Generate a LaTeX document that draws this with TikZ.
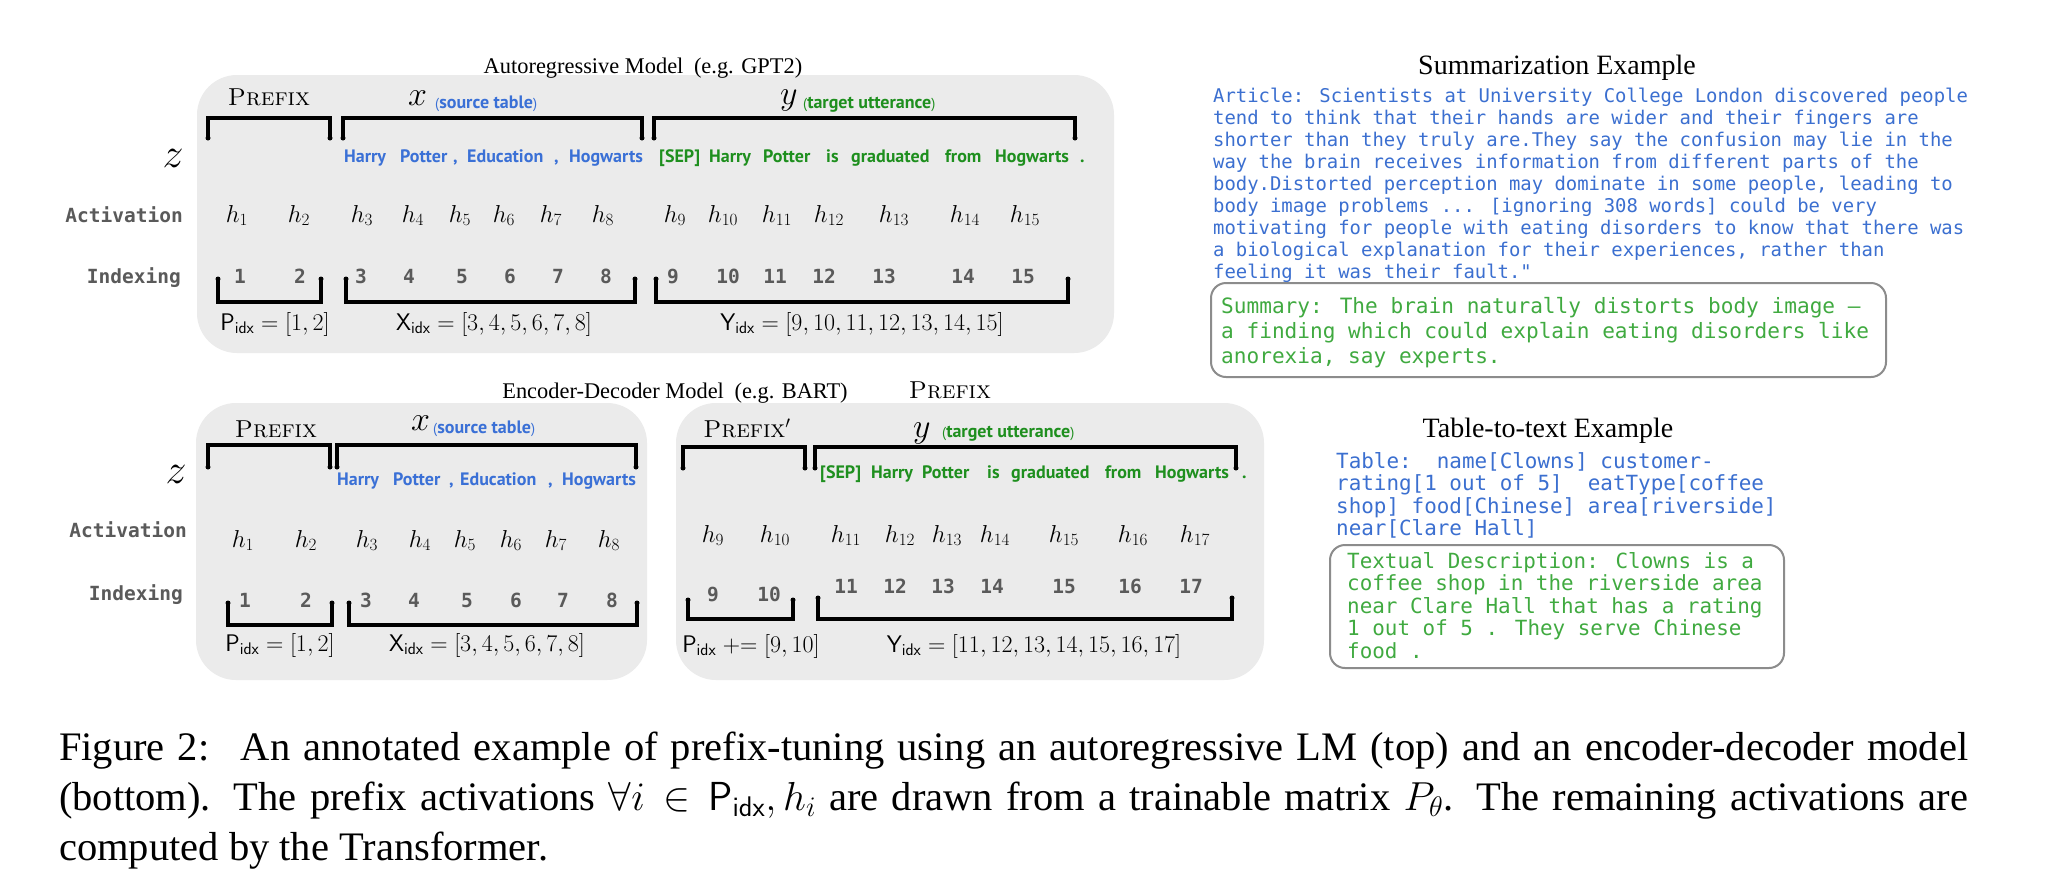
\RequirePackage{fix-cm}
\documentclass[tikz,border=0pt]{standalone}
\usepackage{fontspec}
\newfontfamily\serifT{Liberation Serif}
\newfontfamily\monofnt{DejaVu Sans Mono}
\newfontfamily\tokfnt{PT Sans}
\definecolor{panelgray}{HTML}{EBEBEB}
\definecolor{tokblue}{HTML}{3A70D6}
\definecolor{tokgreen}{HTML}{1E8F1E}
\definecolor{artblue}{HTML}{3B6FD0}
\definecolor{sumgreen}{HTML}{40AA40}
\definecolor{lblgray}{HTML}{5A5A5A}
\definecolor{boxline}{HTML}{8C8C8C}
\newcommand{\mybracket}[4]{\draw[brk] (#1,#4) -- (#1,#3) -- (#2,#3) -- (#2,#4);
  \fill (#1,#4) circle (2.5pt); \fill (#2,#4) circle (2.5pt);}
\newcommand{\lpar}{{\mdseries\fontsize{14.5}{18}\selectfont(}}
\newcommand{\rpar}{{\mdseries\fontsize{14.5}{18}\selectfont)}}
\tikzset{
  panel/.style={fill=panelgray, rounded corners=40pt},
  brk/.style={line width=3.4pt, line cap=round, line join=miter},
  hnode/.style={anchor=base, inner sep=0pt, font=\fontsize{24.5}{29}\selectfont},
  idxnum/.style={anchor=base, inner sep=0pt, text=lblgray, font=\monofnt\bfseries\fontsize{19.5}{23}\selectfont},
  rowlbl/.style={anchor=base east, inner sep=0pt, text=lblgray, font=\monofnt\bfseries\fontsize{19.5}{23}\selectfont},
  zlbl/.style={anchor=base, inner sep=0pt, font=\fontsize{42}{48}\selectfont},
  tokb/.style={anchor=base west, inner sep=0pt, text=tokblue, font=\tokfnt\bfseries\fontsize{18}{22}\selectfont},
  tokg/.style={tokb, text=tokgreen},
  pfx/.style={anchor=base, inner sep=0pt, font=\rmfamily\fontsize{24.5}{29}\selectfont},
  seqvar/.style={anchor=base west, inner sep=0pt, font=\fontsize{34}{40}\selectfont},
  idxset/.style={anchor=base, inner sep=0pt, font=\fontsize{24}{29}\selectfont},
  ttl/.style={anchor=base, inner sep=0pt, font=\serifT\fontsize{22.4}{27}\selectfont},
  extitle/.style={anchor=base, inner sep=0pt, font=\serifT\fontsize{28}{33}\selectfont},
  arttxt/.style={anchor=base west, inner sep=0pt, text=artblue, font=\monofnt\fontsize{18.9}{22}\selectfont},
  sumtxt/.style={anchor=base west, inner sep=0pt, text=sumgreen, font=\monofnt\fontsize{21.1}{25}\selectfont},
  tabtxt/.style={anchor=base west, inner sep=0pt, text=artblue, font=\monofnt\fontsize{20.9}{22.5}\selectfont},
  desctxt/.style={tabtxt, text=sumgreen},
  exbox/.style={draw=boxline, line width=2pt, rounded corners=15pt},
  captxt/.style={anchor=base west, inner sep=0pt, font=\serifT\fontsize{40.5}{50}\selectfont},
}
\begin{document}
\begin{tikzpicture}[x=1pt,y=-1pt]
\useasboundingbox (0,0) rectangle (2048,871);
\fill[white] (0,0) rectangle (2048,871);
% ---------- panels ----------
\fill[panel] (197,75) rectangle (1114,353);
\fill[panel] (196,403) rectangle (647,680);
\fill[panel] (676,403) rectangle (1264,680);
% ---------- titles ----------
\node[ttl] (t1) at (643,73) {Autoregressive Model\hspace{5pt} (e.g. GPT2)};
\node[ttl] (t2) at (675,398) {Encoder-Decoder Model\hspace{5pt} (e.g. BART)};
\node[pfx] (pf4) at (950,398) {\textsc{Prefix}};
% ================= TOP PANEL =================
\node[zlbl] (z1) at (173,167) {$z$};
\node[rowlbl] (act1) at (183,222) {Activation};
\node[rowlbl] (ind1) at (181,283) {Indexing};
\node[pfx] (pf1) at (269,105) {\textsc{Prefix}};
\node[seqvar] (x1) at (408,105) {$x$};
\node[tokb] (x1l) at (435,108) {\lpar source table\rpar};
\node[seqvar] (y1) at (780,104) {$y$};
\node[tokg] (y1l) at (803,108) {\lpar target utterance\rpar};
\mybracket{208}{330}{118}{138}
\mybracket{343}{642}{118}{138}
\mybracket{654}{1075}{118}{138}
\foreach \w/\xx [count=\i] in {Harry/344, Potter/400, {,}/453, Education/467, {,}/554, Hogwarts/569}
  \node[tokb] (tb\i) at (\xx,162) {\w};
\foreach \w/\xx [count=\i] in {{[SEP]}/659, Harry/709, Potter/763, is/826, graduated/851, from/945, Hogwarts/995, ./1080}
  \node[tokg] (tg\i) at (\xx,162) {\w};
\foreach \n/\xx in {1/237,2/299,3/362,4/413,5/460,6/504,7/551,8/603,9/675,10/723,11/777,12/829,13/894,14/965,15/1025}
  \node[hnode] (ha\n) at (\xx,222) {$h_{\n}$};
\foreach \n/\xx in {1/240,2/300,3/361,4/409,5/462,6/510,7/558,8/606,9/673,10/728,11/775,12/824,13/884,14/963,15/1023}
  \node[idxnum] (ia\n) at (\xx,283) {\n};
\mybracket{218}{321}{302}{279}
\mybracket{346}{635}{302}{279}
\mybracket{656}{1068}{302}{279}
\node[idxset] (pa) at (275,330) {$\mathsf{P}_{\mathsf{idx}}=[1,2]$};
\node[idxset] (xa) at (494,330) {$\mathsf{X}_{\mathsf{idx}}=[3,4,5,6,7,8]$};
\node[idxset] (ya) at (862,330) {$\mathsf{Y}_{\mathsf{idx}}=[9,10,11,12,13,14,15]$};
% ================= BOTTOM LEFT PANEL =================
\node[zlbl] (z2) at (176,483) {$z$};
\node[rowlbl] (act2) at (187,537) {Activation};
\node[rowlbl] (ind2) at (183,600) {Indexing};
\node[pfx] (pf2) at (276,437) {\textsc{Prefix}};
\node[seqvar] (x2) at (411,430) {$x$};
\node[tokb] (x2l) at (433,433) {\lpar source table\rpar};
\mybracket{208}{330}{445}{467}
\mybracket{337}{636}{445}{467}
\foreach \w/\xx [count=\i] in {Harry/337, Potter/393, {,}/449, Education/460, {,}/548, Hogwarts/562}
  \node[tokb] (bb\i) at (\xx,485) {\w};
\foreach \n/\xx in {1/243,2/306,3/367,4/420,5/465,6/511,7/556,8/609}
  \node[hnode] (hb\n) at (\xx,547) {$h_{\n}$};
\foreach \n/\xx in {1/245,2/306,3/366,4/414,5/467,6/516,7/563,8/612}
  \node[idxnum] (ib\n) at (\xx,607) {\n};
\mybracket{228}{332}{625}{603}
\mybracket{349}{637}{625}{603}
\node[idxset] (pb) at (280,651) {$\mathsf{P}_{\mathsf{idx}}=[1,2]$};
\node[idxset] (xb) at (487,651) {$\mathsf{X}_{\mathsf{idx}}=[3,4,5,6,7,8]$};
% ================= BOTTOM RIGHT PANEL =================
\node[pfx] (pf3) at (747,437) {\textsc{Prefix}$'$};
\node[seqvar] (y2) at (913,437) {$y$};
\node[tokg] (y2l) at (942,437) {\lpar target utterance\rpar};
\mybracket{683}{805}{447}{468}
\mybracket{815}{1236}{447}{468}
\foreach \w/\xx [count=\i] in {{[SEP]}/820, Harry/871, Potter/922, is/987, graduated/1011, from/1105, Hogwarts/1155, ./1242}
  \node[tokg] (bg\i) at (\xx,478) {\w};
\foreach \n/\xx in {9/713,10/775,11/846,12/900,13/947,14/995,15/1064,16/1133,17/1195}
  \node[hnode] (hc\n) at (\xx,542) {$h_{\n}$};
\foreach \n/\xx in {9/713,10/769}
  \node[idxnum] (ic\n) at (\xx,601) {\n};
\foreach \n/\xx in {11/846,12/895,13/943,14/992,15/1064,16/1130,17/1191}
  \node[idxnum] (ic\n) at (\xx,593) {\n};
\mybracket{688}{793}{619}{600}
\mybracket{818}{1232}{619}{598}
\node[idxset] (pc) at (751,652) {$\mathsf{P}_{\mathsf{idx}}\mathrel{+}\mathrel{=}[9,10]$};
\node[idxset] (yc) at (1034,652) {$\mathsf{Y}_{\mathsf{idx}}=[11,12,13,14,15,16,17]$};
% ================= SUMMARIZATION EXAMPLE =================
\node[extitle] (sumt) at (1557,74) {Summarization Example};
\foreach \t [count=\i] in {
  {Article: Scientists at University College London discovered people},
  {tend to think that their hands are wider and their fingers are},
  {shorter than they truly are.They say the confusion may lie in the},
  {way the brain receives information from different parts of the},
  {body.Distorted perception may dominate in some people, leading to},
  {body image problems .{}.{}. [ignoring 308 words] could be very},
  {motivating for people with eating disorders to know that there was},
  {a biological explanation for their experiences, rather than},
  {feeling it was their fault."}}
  \node[arttxt] (art\i) at (1213,{102+22*(\i-1)}) {\t};
\draw[exbox] (1211,283) rectangle (1886,377);
\foreach \t [count=\i] in {
  {Summary: The brain naturally distorts body image –},
  {a finding which could explain eating disorders like},
  {anorexia, say experts.}}
  \node[sumtxt] (sum\i) at (1221,{313+25*(\i-1)}) {\t};
% ================= TABLE-TO-TEXT EXAMPLE =================
\node[extitle] (tabt) at (1548,437) {Table-to-text Example};
\foreach \t [count=\i] in {
  {Table:~~name[Clowns] customer-},
  {rating[1 out of 5]~~eatType[coffee},
  {shop] food[Chinese] area[riverside]},
  {near[Clare Hall]}}
  \node[tabtxt] (tab\i) at (1336,{468+22.5*(\i-1)}) {\t};
\draw[exbox] (1330,545) rectangle (1784,668);
\foreach \t [count=\i] in {
  {Textual Description: Clowns is a},
  {coffee shop in the riverside area},
  {near Clare Hall that has a rating},
  {1 out of 5 . They serve Chinese},
  {food .}}
  \node[desctxt] (desc\i) at (1347,{568+22.5*(\i-1)}) {\t};
% ================= CAPTION =================
\node[captxt] (cap1) at (59,760) {\makebox[1909pt][s]{Figure 2:\hspace{12pt} An annotated example of prefix-tuning using an autoregressive LM (top) and an encoder-decoder model}};
\node[captxt] (cap2) at (59,810) {\makebox[1909pt][s]{(bottom). The prefix activations $\forall i \in \mathsf{P}_{\mathsf{idx}}, h_i$ are drawn from a trainable matrix $P_\theta$. The remaining activations are}};
\node[captxt] (cap3) at (59,860) {computed by the Transformer.};
\end{tikzpicture}
\end{document}
